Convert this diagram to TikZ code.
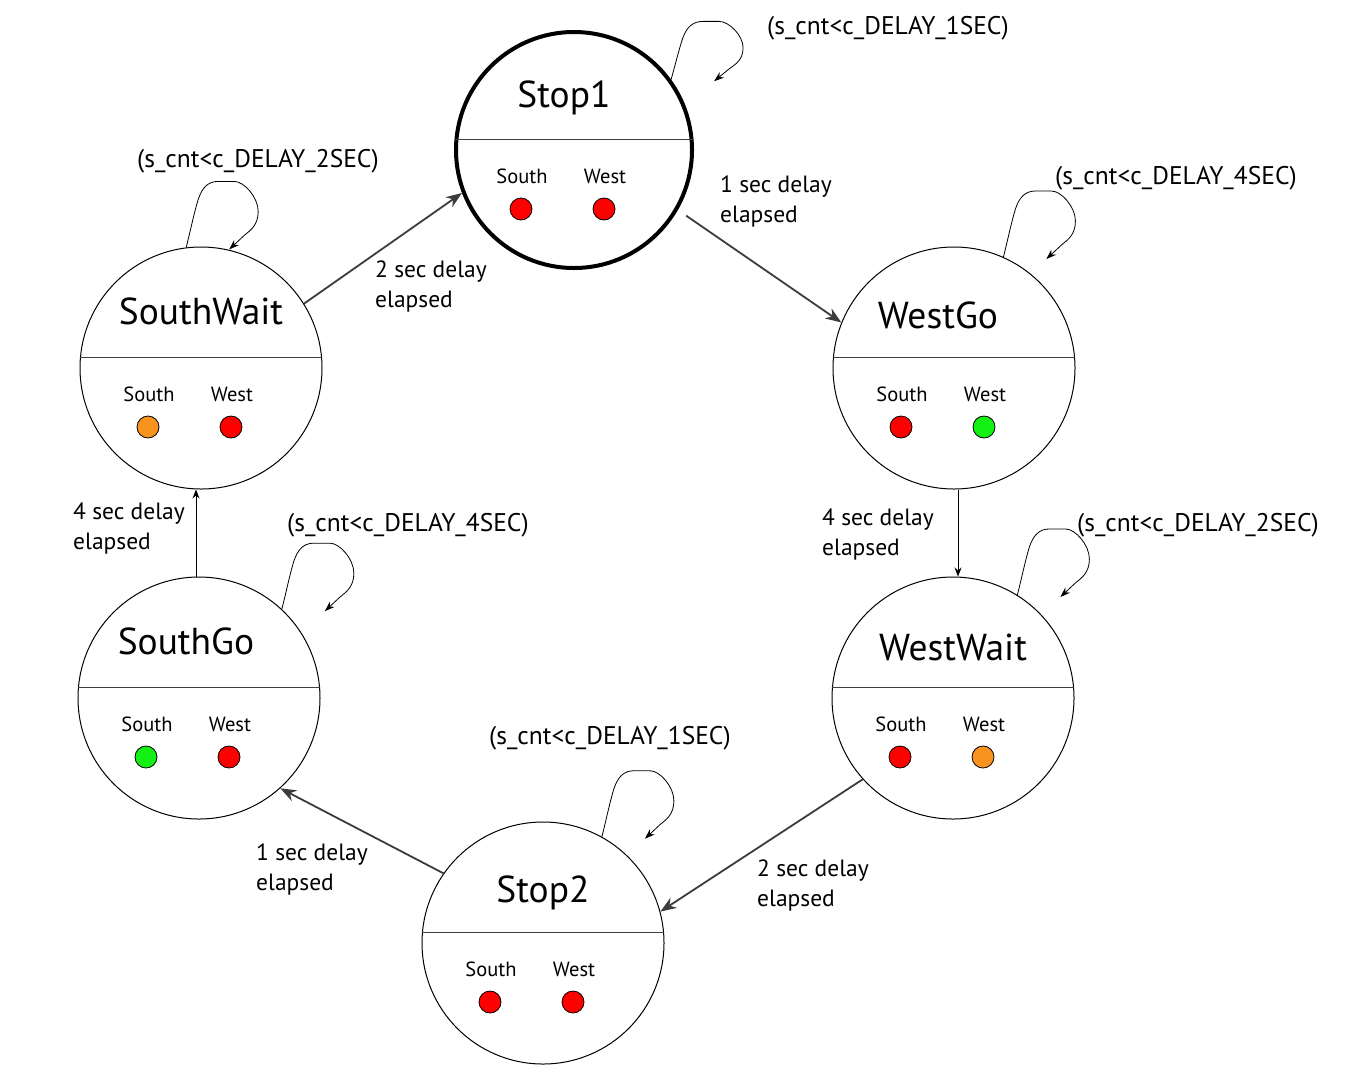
\documentclass[tikz,border=0pt]{standalone}
\usepackage{fontspec}
\setmainfont{PT Sans}
\usetikzlibrary{arrows.meta,calc}
\definecolor{lred}{HTML}{FF0000}
\definecolor{lgreen}{HTML}{14F014}
\definecolor{lorange}{HTML}{F7931E}
\definecolor{arrowgray}{HTML}{3C3C3C}
\tikzset{
 statec/.style={circle, draw=black, line width=1pt, minimum size=242pt, inner sep=0pt, fill=white},
 divline/.style={draw=black!75, line width=1pt},
 titletext/.style={font=\fontsize{37.5}{40}\selectfont, inner sep=0pt, anchor=base},
 lighttext/.style={font=\fontsize{20.5}{22}\selectfont, inner sep=0pt, anchor=base},
 lamp/.style={circle, draw=black, line width=0.8pt, minimum size=22pt, inner sep=0pt},
 trans/.style={draw=arrowgray, line width=1.8pt, -{Stealth[length=16pt,width=12pt]}},
 transthin/.style={draw=black, line width=1pt, -{Stealth[length=9pt,width=7pt]}},
 selfloop/.style={draw=black, line width=0.8pt, -{Stealth[length=10pt,width=7pt]}},
 guard/.style={font=\fontsize{25.5}{27}\selectfont, inner sep=0pt, anchor=west},
 edgelabel/.style={font=\fontsize{23.5}{30}\selectfont, inner sep=0pt, anchor=west, align=left},
}
\newcommand\mystate[9][]{%
 \node[statec,#1] (#2) at (#3,#4) {};
 \draw[divline] ($(#2.west)+(0.5,-11)$) -- ($(#2.east)+(-0.5,-11)$);
 \node[titletext] (#2-t) at ($(#2)+(#5,#6)$) {#7};
 \node[lighttext] (#2-s) at ($(#2)+(-52,33)$) {South};
 \node[lighttext] (#2-w) at ($(#2)+(31,33)$) {West};
 \node[lamp, fill=#8] (#2-ds) at ($(#2)+(-53,59)$) {};
 \node[lamp, fill=#9] (#2-dw) at ($(#2)+(30,59)$) {};
}
\newcommand\myloop[2][]{%
 \begin{scope}[shift={(#2)},#1]
 \draw[selfloop] (0,0) .. controls (5,-20) and (8,-35) .. (12,-48)
   .. controls (16,-60) and (22,-66) .. (32,-66) -- (48,-66)
   .. controls (58,-66) and (72,-50) .. (72,-36)
   .. controls (72,-22) and (64,-17) .. (58,-12) -- (43,2);
 \end{scope}
}
\begin{document}
\begin{tikzpicture}[x=1pt,y=-1pt]
\useasboundingbox[fill=white] (0,0) rectangle (1359,1080);

\mystate[line width=4pt, minimum size=236pt]{stop1}{574}{150}{-10}{-43}{Stop1}{lred}{lred}
\mystate{southwait}{201}{368}{0}{-44}{SouthWait}{lorange}{lred}
\mystate{westgo}{954}{368}{-16}{-40}{WestGo}{lred}{lgreen}
\mystate{southgo}{199}{698}{-13}{-44}{SouthGo}{lgreen}{lred}
\mystate{westwait}{953}{698}{0}{-38}{WestWait}{lred}{lorange}
\mystate{stop2}{543}{943}{0}{-41}{Stop2}{lred}{lred}

% transitions
\draw[trans] (southwait.32) -- (stop1.201);
\draw[trans, shorten <=10pt] (stop1.-30) -- (westgo.158);
\draw[transthin] ([xshift=4pt]westgo.south) -- ([xshift=5pt]westwait.north);
\draw[trans] (westwait.222) -- (stop2.15);
\draw[trans] (stop2.145) -- (southgo.-48);
\draw[transthin] ([xshift=-3pt]southgo.north) -- ([xshift=-5pt]southwait.south);

% self loops
\myloop[yscale=0.88]{stop1.36}
\myloop{southwait.97}
\myloop{westgo.66}
\myloop{westwait.58}
\myloop{southgo.47}
\myloop{stop2.61}

% guards
\node[guard] (g1) at (767,28) {(s\_cnt<c\_DELAY\_1SEC)};
\node[guard] (g2) at (137,161) {(s\_cnt<c\_DELAY\_2SEC)};
\node[guard] (g3) at (1055,178) {(s\_cnt<c\_DELAY\_4SEC)};
\node[guard] (g4) at (1077,525) {(s\_cnt<c\_DELAY\_2SEC)};
\node[guard] (g5) at (287,525) {(s\_cnt<c\_DELAY\_4SEC)};
\node[guard] (g6) at (489,738) {(s\_cnt<c\_DELAY\_1SEC)};

% edge labels
\node[edgelabel] (e1) at (375,286) {2 sec delay\\elapsed};
\node[edgelabel] (e2) at (720,201) {1 sec delay\\elapsed};
\node[edgelabel] (e3) at (822,534) {4 sec delay\\elapsed};
\node[edgelabel] (e4) at (757,885) {2 sec delay\\elapsed};
\node[edgelabel] (e5) at (256,869) {1 sec delay\\elapsed};
\node[edgelabel] (e6) at (73,528) {4 sec delay\\elapsed};
\end{tikzpicture}
\end{document}
